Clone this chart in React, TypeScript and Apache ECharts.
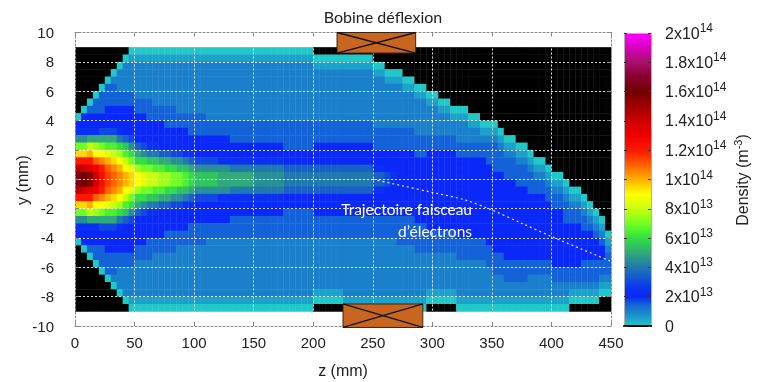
import React, { useEffect, useRef } from 'react';
import * as echarts from 'echarts';

// z axis (mm) and y axis (mm) ranges
const zRange = [0, 450];
const yRange = [-10, 10];
const zTickStep = 50;
const yTickStep = 2;

// Density map: one string per 5 mm column in z (z = 0..450),
// 36 cells per column from y = +9 (top) to y = -9 (bottom), 0.5 mm each.
// '.' = no plasma (black); other chars are base-36 levels in units of 0.5e13 m^-3.
const cellDz = 5;
const cellDy = 0.5;
const cellTopY = 9;
const densityUnit = 0.5e13;
const densityColumns: string[] = [
  '.........0459ejotxxtoje9540.........',
  '........04459ejoswwsoje95440........',
  '.......03445agkorvvrokga54430.......',
  '......033445afimqssqmifa544330......',
  '.....0333446aeiloppoliea6443330.....',
  '....03334446adhkmnnmkhda64443330....',
  '...023334446adgjlmmljgda644433320...',
  '..02223344458cfikllkifc85444332220..',
  '.022223344447bdgikkigdb744443322220.',
  '01222233444469cehjjhec96444433222210',
  '01222223344447acfiifca74444332222210',
  '012222233444469cehhec964444332222210',
  '012222233344458beggeb854443332222210',
  '012222223344458bdggdb854443322222210',
  '012222223344447adffda744443322222210',
  '012222223334447acffca744433322222210',
  '0122222233344469ceec9644433322222210',
  '0122222223344469beeb9644433222222210',
  '0122222223344458bddb8544433222222210',
  '0122222223334457acca7544333222222210',
  '01222222233344469bb96444333222222210',
  '01222222233344469bb96444333222222210',
  '01222222223344469bb96444332222222210',
  '01222222223344469bb96444332222222210',
  '01222222223344459aa95444332222222210',
  '01222222223344459aa95444332222222210',
  '01222222223334458aa85443332222222210',
  '01222222223334458aa85443332222222210',
  '01222222223334458aa85443332222222210',
  '01222222223334458aa85443332222222210',
  '012222222233344589985443332222222210',
  '012222222233344589985443332222222210',
  '012222222233344589985443332222222210',
  '012222222233344589985443332222222210',
  '012222222233344589985443332222222210',
  '012222222233334478874433332222222210',
  '012222222233334478874433332222222210',
  '012222222233334478874433332222222210',
  '012222222233334478874433332222222210',
  '012222222233334478874433332222222210',
  '.0122222223334447887444333222222210.',
  '.0122222223334447887444333222222210.',
  '.0122222223334447887444333222222210.',
  '.0122222223334447887444333222222210.',
  '.0122222223334447887444333222222210.',
  '.01222222233344478874443332222222210',
  '.01222222233344478874443332222222210',
  '.01222222233344478874443332222222210',
  '.01222222233344478874443332222222210',
  '.01222222233344478874443332222222210',
  '..0122222223334457754443332222222210',
  '..0122222223334457754443332222222210',
  '...012222223334446644443332222222210',
  '...012222223334445544443332222222210',
  '...012222223334444444443333222222210',
  '....01222223334444444443333222222210',
  '....01222223334444444443333222222210',
  '.....0122222333444444444333322222210',
  '.....0122222333444444444333322222210',
  '......01222233444444444443332222210.',
  '......01222233444444444443332222210.',
  '.......0122233444444444443332222210.',
  '.......0122233444444444443332222210.',
  '........012233444444444443332222210.',
  '........0122233444444444443332222210',
  '........0122233444444444443332222210',
  '.........012233444444444443332222210',
  '.........012233444444444443332222210',
  '..........01233444444444443332222210',
  '..........01233344444444444333222210',
  '..........01233334444444444433322210',
  '...........0123334444444444433322210',
  '............012333444444444443332210',
  '............012333444444444443332210',
  '.............01233344444444443332210',
  '.............01233344444444443332210',
  '..............0123334444444443322210',
  '...............012334444444443322210',
  '...............012334444444443322210',
  '................01233444444443322210',
  '.................0123344444444332210',
  '.................0123344444444332210',
  '..................012333444444332210',
  '...................0123344444433210.',
  '...................0123344444433210.',
  '....................012334444333210.',
  '.....................01234444333210.',
  '......................0123444333210.',
  '.......................01234433210..',
  '.........................012333210..',
];

// Colour scale of the density bar, 0 .. 2e14 (every 0.5e13)
const densityMax = 2e14;
const densityTickStep = 2e13;
const colorStops = [
  '#20c8c8', '#1ca2ca', '#1a80cc', '#1462d8', '#0a28f8', '#0a30f0', '#1048e0', '#1860c8',
  '#2078b0', '#289094', '#30aa78', '#30c55c', '#30e040', '#50f030', '#70ff20', '#a0ff18',
  '#c8ff10', '#e4ff08', '#ffff00', '#ffd800', '#ffb000', '#ff8800', '#ff6000', '#ff3c00',
  '#ff1800', '#f80c00', '#f00000', '#e00000', '#d00000', '#b80000', '#a00000', '#880000',
  '#700000', '#7c0018', '#880030', '#98084c', '#a81068', '#c00894', '#d800c0', '#ec00e0',
  '#ff00ff',
];
const noPlasmaColor = '#000000';

// Electron beam trajectory (dotted line)
const beamZ = [250, 275, 300, 327, 350, 375, 400, 425, 450];
const beamY = [0, -0.45, -0.9, -1.4, -2.1, -3.0, -3.9, -4.75, -5.6];

// Deflection coils (z start, z end, y low, y high)
const coilZStart = [220, 225];
const coilZEnd = [286, 292];
const coilYLow = [8.6, -10.1];
const coilYHigh = [10, -8.5];

const FONT = 'Liberation Sans, Arial, sans-serif';
const TITLE_FONT = 'Lato, "Open Sans", sans-serif';

function sciLabel(v: number): string {
  if (v === 0) return '{m|0}';
  const e = Math.floor(Math.log10(v) + 1e-9);
  const m = Math.round((v / Math.pow(10, e)) * 10) / 10;
  return `{m|${m}x10}{e|${e}}`;
}

export default function App() {
  const ref = useRef<HTMLDivElement>(null);
  useEffect(() => {
    if (!ref.current) return;
    const chart = echarts.init(ref.current, null, { renderer: 'svg' });

    const cells: number[][] = [];
    densityColumns.forEach((col, c) => {
      const z = zRange[0] + cellDz * (c + 0.5);
      const nRows = Math.round((2 * cellTopY) / cellDy);
      for (let r = 0; r < nRows; r++) {
        const ch = col[r] ?? '.';
        const y = cellTopY - cellDy * (r + 0.5);
        const v = ch === '.' ? -1 : parseInt(ch, 36) * densityUnit;
        cells.push([z, y, v]);
      }
    });

    const coils = coilZStart.map((z0, i) => [z0, coilZEnd[i], coilYLow[i], coilYHigh[i]]);
    const beam = beamZ.map((z, i) => [z, beamY[i]]);

    const gridLine = { color: 'rgba(255,255,255,0.85)', type: [2, 2] as any, width: 1 };
    const borderLine = { color: '#8a8a8a', type: [2, 2] as any, width: 1 };

    const option: any = {
      animation: false,
      grid: [
        { left: 75, top: 32.5, width: 536, height: 293.5 },
        { left: 624, top: 33, width: 27, height: 293 },
      ],
      xAxis: [
        {
          gridIndex: 0, type: 'value', min: zRange[0], max: zRange[1], interval: zTickStep,
          position: 'bottom', z: 5,
          axisLine: { show: true, onZero: false, lineStyle: borderLine },
          axisTick: { show: true, inside: true, length: 4, lineStyle: { color: '#8a8a8a' } },
          axisLabel: { show: true, margin: 9, color: '#222', fontSize: 15, fontFamily: FONT },
          splitLine: { show: true, lineStyle: gridLine },
        },
        {
          gridIndex: 0, type: 'value', min: zRange[0], max: zRange[1], interval: zTickStep,
          position: 'top', z: 5,
          axisLine: { show: true, onZero: false, lineStyle: borderLine },
          axisTick: { show: true, inside: true, length: 4, lineStyle: { color: '#8a8a8a' } },
          axisLabel: { show: false }, splitLine: { show: false },
        },
        {
          gridIndex: 1, type: 'category', data: [''], position: 'bottom', z: 6,
          axisLine: { show: true, onZero: false, lineStyle: { color: '#000', width: 2 } },
          axisTick: { show: false }, axisLabel: { show: false }, splitLine: { show: false },
        },
        {
          gridIndex: 1, type: 'category', data: [''], position: 'top', z: 6,
          axisLine: { show: true, onZero: false, lineStyle: { color: '#b0b0b0', width: 1 } },
          axisTick: { show: false }, axisLabel: { show: false }, splitLine: { show: false },
        },
      ],
      yAxis: [
        {
          gridIndex: 0, type: 'value', min: yRange[0], max: yRange[1], interval: yTickStep,
          position: 'left', z: 5,
          axisLine: { show: true, onZero: false, lineStyle: borderLine },
          axisTick: { show: true, inside: true, length: 4, lineStyle: { color: '#8a8a8a' } },
          axisLabel: { show: true, margin: 21, color: '#222', fontSize: 15, fontFamily: FONT },
          splitLine: { show: true, lineStyle: gridLine },
        },
        {
          gridIndex: 0, type: 'value', min: yRange[0], max: yRange[1], interval: yTickStep,
          position: 'right', z: 5,
          axisLine: { show: true, onZero: false, lineStyle: borderLine },
          axisTick: { show: true, inside: true, length: 4, lineStyle: { color: '#8a8a8a' } },
          axisLabel: { show: false }, splitLine: { show: false },
        },
        {
          gridIndex: 1, type: 'value', min: 0, max: densityMax, interval: densityTickStep,
          position: 'right', z: 6,
          axisLine: { show: true, onZero: false, lineStyle: { color: '#b0b0b0' } },
          axisTick: { show: true, inside: true, length: 3, lineStyle: { color: '#333' } },
          axisLabel: {
            show: true, margin: 14, formatter: sciLabel,
            rich: {
              m: { fontSize: 16, fontFamily: FONT, color: '#222', lineHeight: 22 },
              e: { fontSize: 12, fontFamily: FONT, color: '#222', lineHeight: 12, verticalAlign: 'top' },
            },
          },
          splitLine: { show: false },
        },
        {
          gridIndex: 1, type: 'value', min: 0, max: densityMax, interval: densityTickStep,
          position: 'left', z: 6,
          axisLine: { show: true, onZero: false, lineStyle: { color: '#b0b0b0' } },
          axisTick: { show: true, inside: true, length: 3, lineStyle: { color: '#333' } },
          axisLabel: { show: false }, splitLine: { show: false },
        },
      ],
      visualMap: {
        type: 'continuous', seriesIndex: 0, dimension: 2, min: 0, max: densityMax,
        inRange: { color: colorStops },
        orient: 'vertical', left: 624, top: 33, itemWidth: 27, itemHeight: 293,
        padding: 0, calculable: false, show: true, hoverLink: false,
      },
      series: [
        {
          type: 'custom', xAxisIndex: 0, yAxisIndex: 0, z: 1, data: cells,
          renderItem: (params: any, api: any) => {
            const z = api.value(0);
            const y = api.value(1);
            const v = api.value(2);
            const a = api.coord([z - cellDz / 2, y + cellDy / 2]);
            const b = api.coord([z + cellDz / 2, y - cellDy / 2]);
            return {
              type: 'rect',
              shape: { x: a[0], y: a[1], width: b[0] - a[0] + 0.4, height: b[1] - a[1] + 0.4 },
              style: { fill: v < 0 ? noPlasmaColor : api.visual('color') },
            };
          },
        },
        {
          type: 'line', xAxisIndex: 0, yAxisIndex: 0, z: 6, data: beam, showSymbol: false,
          smooth: 0.3, lineStyle: { color: 'rgba(255,255,255,0.9)', width: 1.2, type: [2, 3] },
        },
        {
          type: 'custom', xAxisIndex: 0, yAxisIndex: 0, z: 8, clip: false, data: coils,
          renderItem: (params: any, api: any) => {
            const tl = api.coord([api.value(0), api.value(3)]);
            const br = api.coord([api.value(1), api.value(2)]);
            return {
              type: 'group',
              children: [
                {
                  type: 'rect',
                  shape: { x: tl[0], y: tl[1], width: br[0] - tl[0], height: br[1] - tl[1] },
                  style: { fill: '#c8651e', stroke: '#3a2412', lineWidth: 1 },
                },
                { type: 'line', shape: { x1: tl[0], y1: tl[1], x2: br[0], y2: br[1] }, style: { stroke: '#111', lineWidth: 1.3 } },
                { type: 'line', shape: { x1: tl[0], y1: br[1], x2: br[0], y2: tl[1] }, style: { stroke: '#111', lineWidth: 1.3 } },
              ],
            };
          },
        },
      ],
      graphic: [
        {
          type: 'text', x: 383, y: 16, z: 10,
          style: { text: 'Bobine déflexion', fill: '#222', font: `16px ${TITLE_FONT}`, textAlign: 'center', textVerticalAlign: 'middle' },
        },
        {
          type: 'text', x: 472, y: 209, z: 10,
          style: { text: 'Trajectoire faisceau', fill: '#fff', font: `15.5px ${TITLE_FONT}`, textAlign: 'right', textVerticalAlign: 'middle' },
        },
        {
          type: 'text', x: 472, y: 231, z: 10,
          style: { text: 'd’électrons', fill: '#fff', font: `15.5px ${TITLE_FONT}`, textAlign: 'right', textVerticalAlign: 'middle' },
        },
        {
          type: 'text', x: 343, y: 370, z: 10,
          style: { text: 'z (mm)', fill: '#222', font: `16px ${FONT}`, textAlign: 'center', textVerticalAlign: 'middle' },
        },
        {
          type: 'text', x: 22, y: 180, z: 10, rotation: Math.PI / 2,
          style: { text: 'y (mm)', fill: '#222', font: `16px ${FONT}`, textAlign: 'center', textVerticalAlign: 'middle' },
        },
        {
          type: 'text', x: 742, y: 180, z: 10, rotation: Math.PI / 2,
          style: {
            text: '{a|Density (m}{b|-3}{a|)}', textAlign: 'center', textVerticalAlign: 'middle',
            rich: {
              a: { fontSize: 16, fontFamily: FONT, fill: '#222', color: '#222', lineHeight: 20 },
              b: { fontSize: 11, fontFamily: FONT, fill: '#222', color: '#222', lineHeight: 11, verticalAlign: 'top' },
            },
          },
        },
      ],
    };
    chart.setOption(option);
    return () => chart.dispose();
  }, []);
  return <div ref={ref} style={{ position: 'fixed', left: 0, top: 0, width: 768, height: 382 }} />;
}
